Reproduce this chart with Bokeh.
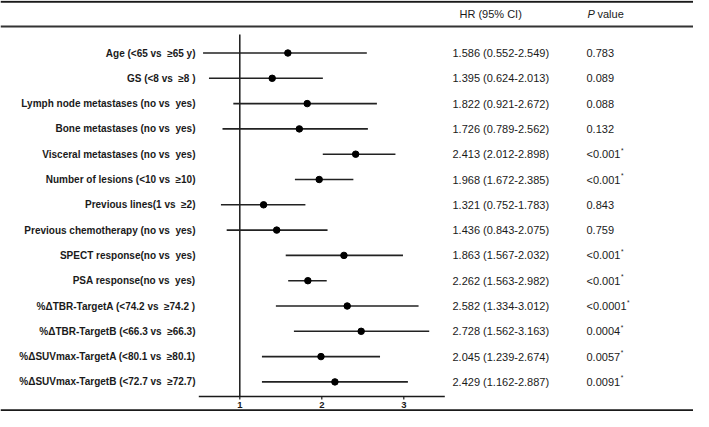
from bokeh.plotting import figure
from bokeh.models import Range1d, ColumnDataSource
from bokeh.core.properties import value
from bokeh.embed import file_html
from bokeh.resources import INLINE

# ---------------- data ----------------
labels = [
    "Age (<65 vs  \u226565 y)",
    "GS (<8 vs  \u22658 )",
    "Lymph node metastases (no vs  yes)",
    "Bone metastases (no vs  yes)",
    "Visceral metastases (no vs  yes)",
    "Number of lesions (<10 vs  \u226510)",
    "Previous lines(1 vs  \u22652)",
    "Previous chemotherapy (no vs  yes)",
    "SPECT response(no vs  yes)",
    "PSA response(no vs  yes)",
    "%\u0394TBR-TargetA (<74.2 vs  \u226574.2 )",
    "%\u0394TBR-TargetB (<66.3 vs  \u226566.3)",
    "%\u0394SUVmax-TargetA (<80.1 vs  \u226580.1)",
    "%\u0394SUVmax-TargetB (<72.7 vs  \u226572.7)",
]
hr_text = [
    "1.586 (0.552-2.549)", "1.395 (0.624-2.013)", "1.822 (0.921-2.672)",
    "1.726 (0.789-2.562)", "2.413 (2.012-2.898)", "1.968 (1.672-2.385)",
    "1.321 (0.752-1.783)", "1.436 (0.843-2.075)", "1.863 (1.567-2.032)",
    "2.262 (1.563-2.982)", "2.582 (1.334-3.012)", "2.728 (1.562-3.163)",
    "2.045 (1.239-2.674)", "2.429 (1.162-2.887)",
]
p_text = ["0.783", "0.089", "0.088", "0.132", "<0.001", "<0.001", "0.843",
          "0.759", "<0.001", "<0.001", "<0.0001", "0.0004", "0.0057", "0.0091"]
p_sig = [False, False, False, False, True, True, False,
         False, True, True, True, True, True, True]
# plotted estimates (as drawn in the figure)
hr_point = [1.586, 1.395, 1.822, 1.726, 2.413, 1.968, 1.29, 1.45, 2.27, 1.83, 2.31, 2.48, 1.99, 2.16]
ci_low   = [0.552, 0.624, 0.921, 0.789, 2.012, 1.672, 0.77, 0.84, 1.56, 1.59, 1.44, 1.66, 1.27, 1.27]
ci_high  = [2.549, 2.013, 2.672, 2.562, 2.898, 2.385, 1.80, 2.07, 2.99, 2.06, 3.18, 3.31, 2.71, 3.05]
ticks = [1, 2, 3]
axis_limits = [0.5, 3.5]
ref_value = 1

# ---------------- layout ----------------
W, H = 693, 411
PX_UNIT = 82.0            # pixels per HR unit
X_ONE = 239.3             # pixel position of HR = 1
X0 = 1 - X_ONE / PX_UNIT
X1 = 1 + (W - X_ONE) / PX_UNIT
ROW0, ROW_STEP = 52.5, 25.3   # pixel centre of first row, row spacing


def fy(pix):
    """pixel (from top) -> row coordinate"""
    return (pix - ROW0) / ROW_STEP


def fx(pix):
    return 1 + (pix - X_ONE) / PX_UNIT


p = figure(width=W, height=H, x_range=Range1d(X0, X1), y_range=Range1d(fy(H), fy(0)),
           output_backend="svg", toolbar_location=None, min_border=0,
           x_axis_location=None, y_axis_location=None)
p.grid.visible = False
p.outline_line_color = None
p.background_fill_color = "white"
p.border_fill_color = "white"

dark = "#1a1a1a"
FONT = value("Liberation Sans")
rows = list(range(len(labels)))
src = ColumnDataSource(dict(row=rows,
                            label=[s.replace("  ", " \u00a0") for s in labels],
                            hr=hr_text, pv=p_text,
                            pt=hr_point, lo=ci_low, hi=ci_high))

# table rules
p.segment(x0=[X0], y0=[fy(1.2)], x1=[X1], y1=[fy(1.2)], line_color=dark, line_width=2)
p.segment(x0=[X0], y0=[fy(26)], x1=[X1], y1=[fy(26)], line_color="#333333", line_width=2)
p.segment(x0=[X0], y0=[fy(409.8)], x1=[X1], y1=[fy(409.8)], line_color=dark, line_width=2)

# reference line and axis
axis_y = fy(396)
p.segment(x0=[ref_value], y0=[fy(34)], x1=[ref_value], y1=[axis_y], line_color=dark, line_width=1.5)
p.segment(x0=[axis_limits[0]], y0=[axis_y], x1=[axis_limits[1]], y1=[axis_y], line_color=dark, line_width=1.5)
p.segment(x0=ticks, y0=[axis_y] * len(ticks), x1=ticks, y1=[fy(399)] * len(ticks),
          line_color=dark, line_width=1.2)
p.text(x=ticks, y=[fy(404)] * len(ticks), text=[str(t) for t in ticks],
       text_font=FONT, text_font_style="bold", text_font_size="9.5px",
       text_align="center", text_baseline="middle", text_color=dark)

# CIs and points
p.segment(x0="lo", y0="row", x1="hi", y1="row", source=src, line_color="#222222", line_width=1.6)
p.scatter(x="pt", y="row", source=src, size=6.5, color="black")

# row labels
p.text(x=fx(195), y="row", text="label", source=src, text_font=FONT,
       text_font_style="bold", text_font_size="10px", text_align="right",
       text_baseline="middle", text_color=dark)

# HR and P columns
p.text(x=fx(452), y="row", text="hr", source=src, text_font=FONT,
       text_font_size="11px", text_align="left", text_baseline="middle", text_color=dark)
p.text(x=fx(586), y="row", text="pv", source=src, text_font=FONT,
       text_font_size="11px", text_align="left", text_baseline="middle", text_color=dark)

# significance asterisks
widths = {".": 0.278, "<": 0.584}


def text_w(s, size):
    return sum(widths.get(c, 0.556) for c in s) * size


sig_rows = [r for r, s in zip(rows, p_sig) if s]
sig_off = [text_w(p_text[r], 11) + 0.5 for r in sig_rows]
p.text(x=[fx(586)] * len(sig_rows), y=sig_rows, text=["*"] * len(sig_rows),
       x_offset=sig_off, y_offset=[-4] * len(sig_rows),
       text_font=FONT, text_font_size="6.5px", text_align="left",
       text_baseline="middle", text_color=dark)

# headers
hy = fy(13)
p.text(x=[fx(459)], y=[hy], text=["HR (95% CI)"], text_font=FONT,
       text_font_size="11px", text_align="left", text_baseline="middle", text_color=dark)
p.text(x=[fx(587)], y=[hy], text=["P"], text_font=FONT,
       text_font_style="italic", text_font_size="11px", text_align="left",
       text_baseline="middle", text_color=dark)
p.text(x=[fx(587)], y=[hy], text=["value"], x_offset=[10], text_font=FONT,
       text_font_size="11px", text_align="left", text_baseline="middle", text_color=dark)

open("out.html", "w").write(file_html(p, INLINE))
